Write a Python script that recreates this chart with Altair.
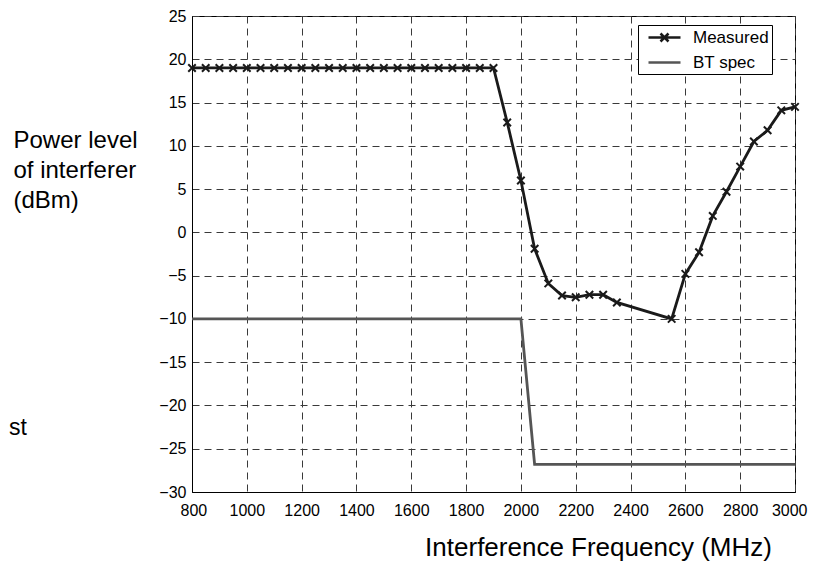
import altair as alt
import pandas as pd

# ---- data ----
meas_freq = [800, 850, 900, 950, 1000, 1050, 1100, 1150, 1200, 1250, 1300, 1350,
             1400, 1450, 1500, 1550, 1600, 1650, 1700, 1750, 1800, 1850, 1900,
             1950, 2000, 2050, 2100, 2150, 2200, 2250, 2300, 2350, 2550, 2600,
             2650, 2700, 2750, 2800, 2850, 2900, 2950, 3000]
meas_power = [19, 19, 19, 19, 19, 19, 19, 19, 19, 19, 19, 19,
              19, 19, 19, 19, 19, 19, 19, 19, 19, 19, 19,
              12.7, 6.0, -1.9, -5.9, -7.3, -7.5, -7.2, -7.2, -8.1, -10.0, -4.8,
              -2.3, 1.9, 4.7, 7.6, 10.5, 11.8, 14.1, 14.5]

spec_freq = [800, 2000, 2050, 3000]
spec_power = [-10, -10, -26.8, -26.8]

series_names = ["Measured", "BT spec"]
series_colors = ["#1a1a1a", "#555555"]

x_ticks = [800, 1000, 1200, 1400, 1600, 1800, 2000, 2200, 2400, 2600, 2800, 3000]
y_ticks = [-30, -25, -20, -15, -10, -5, 0, 5, 10, 15, 20, 25]

y_title_lines = ["Power level", "of interferer", "(dBm)"]
x_title = "Interference Frequency (MHz)"
stray_text = ["st"]

FONT = "Liberation Sans"
W, H = 603, 476

meas = pd.DataFrame({"freq": meas_freq, "power": meas_power, "series": "Measured"})
spec = pd.DataFrame({"freq": spec_freq, "power": spec_power, "series": "BT spec"})
legend_df = pd.DataFrame({"series": series_names, "freq": [800, 800], "power": [0, 0]})
stray_df = pd.DataFrame({"label": stray_text})

x_enc = alt.X(
    "freq:Q",
    scale=alt.Scale(domain=[800, 3000], nice=False, zero=False),
    axis=alt.Axis(
        values=x_ticks, format="d", title=x_title, labelFlush=True, labelFlushOffset=12,
        labelPadding=10,
        titleX=406, titleY=63, titleAlign="center", titleBaseline="alphabetic",
        titleFontSize=26, titleFontWeight="normal",
    ),
)
y_enc = alt.Y(
    "power:Q",
    scale=alt.Scale(domain=[-30, 25], nice=False, zero=False),
    axis=alt.Axis(
        values=y_ticks, format="d", title=y_title_lines, labelPadding=6,
        titleAngle=0, titleAlign="left", titleBaseline="alphabetic",
        titleX=-179, titleY=131, titleLineHeight=30,
        titleFontSize=24, titleFontWeight="normal",
    ),
)

spec_line = alt.Chart(spec).mark_line(color=series_colors[1], strokeWidth=2.8).encode(
    x=x_enc, y=y_enc, order="freq:Q"
)
meas_line = alt.Chart(meas).mark_line(color=series_colors[0], strokeWidth=2.8).encode(
    x="freq:Q", y="power:Q", order="freq:Q"
)
x_path = "M-1,-1L1,1M-1,1L1,-1"
meas_pts = alt.Chart(meas).mark_point(
    shape=x_path, size=56, filled=False, color=series_colors[0], strokeWidth=2, opacity=1
).encode(x="freq:Q", y="power:Q")

legend_props = dict(
    title=None, orient="none", legendX=446, legendY=9, direction="vertical",
    strokeColor="black", fillColor="white", padding=3, rowPadding=6,
    symbolSize=256, symbolStrokeWidth=2.5, symbolFillColor="transparent",
    symbolOpacity=1, symbolOffset=14, labelOffset=19,
    labelFont=FONT, labelFontSize=17, labelColor="black",
    labelExpr="datum.label + '\u00a0\u00a0\u00a0'",
)
sym_meas = "M-2,0L2,0M-0.5,-0.5L0.5,0.5M-0.5,0.5L0.5,-0.5"
sym_spec = "M-2,0L2,0"
legend_layer = alt.Chart(legend_df).mark_point(filled=False, opacity=0).encode(
    x="freq:Q", y="power:Q",
    color=alt.Color("series:N", scale=alt.Scale(domain=series_names, range=series_colors),
                    legend=alt.Legend(**legend_props)),
    shape=alt.Shape("series:N", scale=alt.Scale(domain=series_names, range=[sym_meas, sym_spec]),
                    legend=alt.Legend(**legend_props)),
)

stray = alt.Chart(stray_df).mark_text(
    font=FONT, fontSize=23, align="left", baseline="alphabetic", color="black"
).encode(text="label:N", x=alt.value(-183), y=alt.value(419))

chart = alt.layer(spec_line, meas_line, meas_pts, legend_layer, stray).properties(
    width=W, height=H,
    autosize=alt.AutoSizeParams(type="none"),
    padding={"left": 184, "top": 8, "right": 13, "bottom": 72},
).configure_view(
    stroke="black", strokeWidth=1
).configure_axis(
    grid=True, gridColor="#3a3a3a", gridDash=[7, 5], gridWidth=1, gridOpacity=1,
    domainColor="black", domainWidth=1, tickSize=0,
    labelFont=FONT, labelFontSize=16, labelColor="black",
    titleFont=FONT, titleColor="black",
)

chart.save("out.html", embed_options={"renderer": "svg", "actions": False})
